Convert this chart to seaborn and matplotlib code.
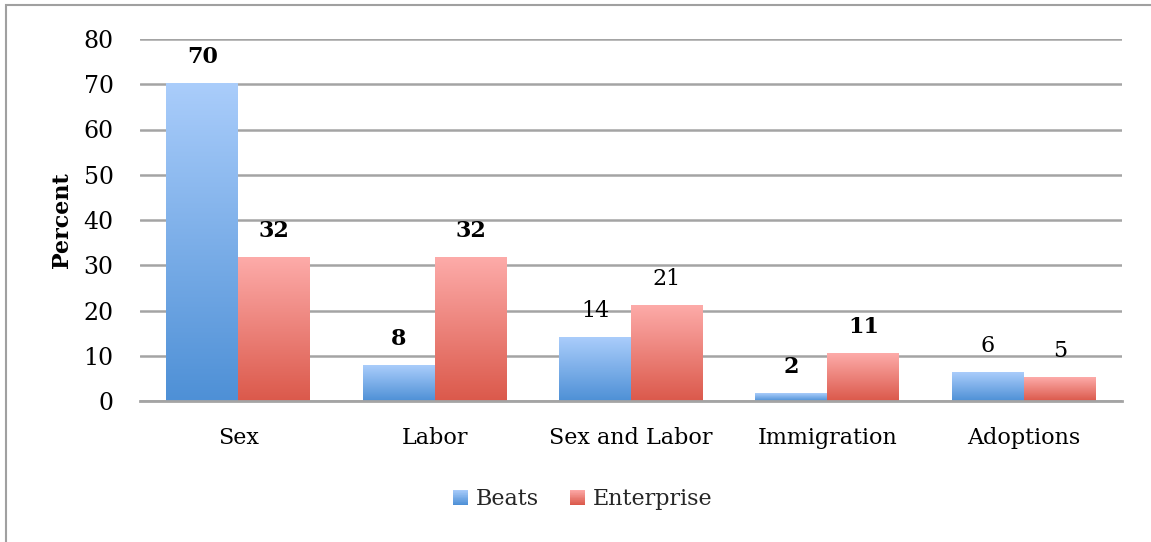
import numpy as np
import pandas as pd
import matplotlib
matplotlib.use("Agg")
import matplotlib.pyplot as plt
import seaborn as sns
from matplotlib.patches import Rectangle
from matplotlib.legend_handler import HandlerBase
from matplotlib.colors import LinearSegmentedColormap

# ---- data ----
categories = ["Sex", "Labor", "Sex and Labor", "Immigration", "Adoptions"]
series = ["Beats", "Enterprise"]
beats = [70.2, 7.8, 14.1, 1.6, 6.3]
enterprise = [31.8, 31.8, 21.1, 10.5, 5.2]
beats_labels = ["70", "8", "14", "2", "6"]
enterprise_labels = ["32", "32", "21", "11", "5"]
beats_bold = [True, True, False, True, False]
enterprise_bold = [True, True, False, True, False]
y_ticks = [0, 10, 20, 30, 40, 50, 60, 70, 80]

df = pd.DataFrame({
    "category": categories * 2,
    "series": [series[0]] * len(categories) + [series[1]] * len(categories),
    "value": beats + enterprise,
})

blue_cmap = LinearSegmentedColormap.from_list("b", ["#4e90d6", "#aacdfb"])
red_cmap = LinearSegmentedColormap.from_list("r", ["#db594b", "#fdaba9"])
cmaps = [blue_cmap, red_cmap]

sns.set_theme(style="white")
plt.rcParams['font.family'] = ['DejaVu Serif']

W, H = 1151, 542
fig = plt.figure(figsize=(W / 100, H / 100), dpi=100)
ax = fig.add_axes([140 / W, 1 - 401 / H, (1122 - 140) / W, (401 - 39) / H])

sns.barplot(data=df, x="category", y="value", hue="series",
            palette=["#7fb0ea", "#ee8580"], width=0.733, gap=0,
            saturation=1, ax=ax, legend=False, errorbar=None)

grad = np.linspace(0, 1, 256).reshape(-1, 1)
labels_all = [beats_labels, enterprise_labels]
bold_all = [beats_bold, enterprise_bold]
for si, cont in enumerate(ax.containers):
    for bi, bar in enumerate(cont):
        x0, w, h = bar.get_x(), bar.get_width(), bar.get_height()
        ax.imshow(grad, extent=[x0, x0 + w, 0, h], aspect="auto",
                  cmap=cmaps[si], origin="lower", zorder=2, interpolation="bilinear")
        bar.set_visible(False)
        ax.annotate(labels_all[si][bi], (x0 + w / 2, h), xytext=(0, 11),
                    textcoords="offset points", ha="center", va="bottom",
                    fontsize=16, color="black",
                    fontweight="bold" if bold_all[si][bi] else "normal")

ax.set_xlim(-0.5, len(categories) - 0.5)
ax.set_ylim(0, 80)
ax.set_yticks(y_ticks)
ax.yaxis.grid(True, color="#a4a4a4", lw=1.8)
ax.set_axisbelow(True)
for s in ["top", "right", "left"]:
    ax.spines[s].set_visible(False)
ax.spines["bottom"].set_color("#a4a4a4")
ax.spines["bottom"].set_linewidth(2.0)
ax.spines["bottom"].set_zorder(3)
ax.tick_params(axis="y", length=0, labelsize=17, colors="black", pad=19)
ax.tick_params(axis="x", length=0, labelsize=16, colors="black", pad=19)
ax.set_xlabel("")
ax.set_ylabel("Percent", fontsize=16, fontweight="bold", color="black")
ax.yaxis.set_label_coords((73 - 140) / (1122 - 140), 0.5)


class GradHandler(HandlerBase):
    def __init__(self, cmap):
        super().__init__()
        self.cmap = cmap

    def create_artists(self, legend, orig_handle, xdescent, ydescent,
                       width, height, fontsize, trans):
        n = 24
        arts = []
        for i in range(n):
            r = Rectangle((-xdescent, -ydescent + height * i / n), width,
                          height / n * 1.05, facecolor=self.cmap(i / (n - 1)),
                          edgecolor="none", transform=trans)
            arts.append(r)
        return arts


h1 = Rectangle((0, 0), 1, 1)
h2 = Rectangle((0, 0), 1, 1)
fig.legend([h1, h2], series, loc="center", bbox_to_anchor=(583 / W, 1 - 499 / H),
           ncol=2, frameon=False, fontsize=16, handlelength=0.68, handleheight=0.68,
           handletextpad=0.35, columnspacing=1.4,
           handler_map={h1: GradHandler(blue_cmap), h2: GradHandler(red_cmap)})

fig.patches.append(Rectangle((6 / W, -0.05), 1.1, 1 - 5 / H + 0.05,
                             transform=fig.transFigure, fill=False,
                             edgecolor="#a0a0a0", lw=1.5))

fig.savefig("out.png", dpi=100)
